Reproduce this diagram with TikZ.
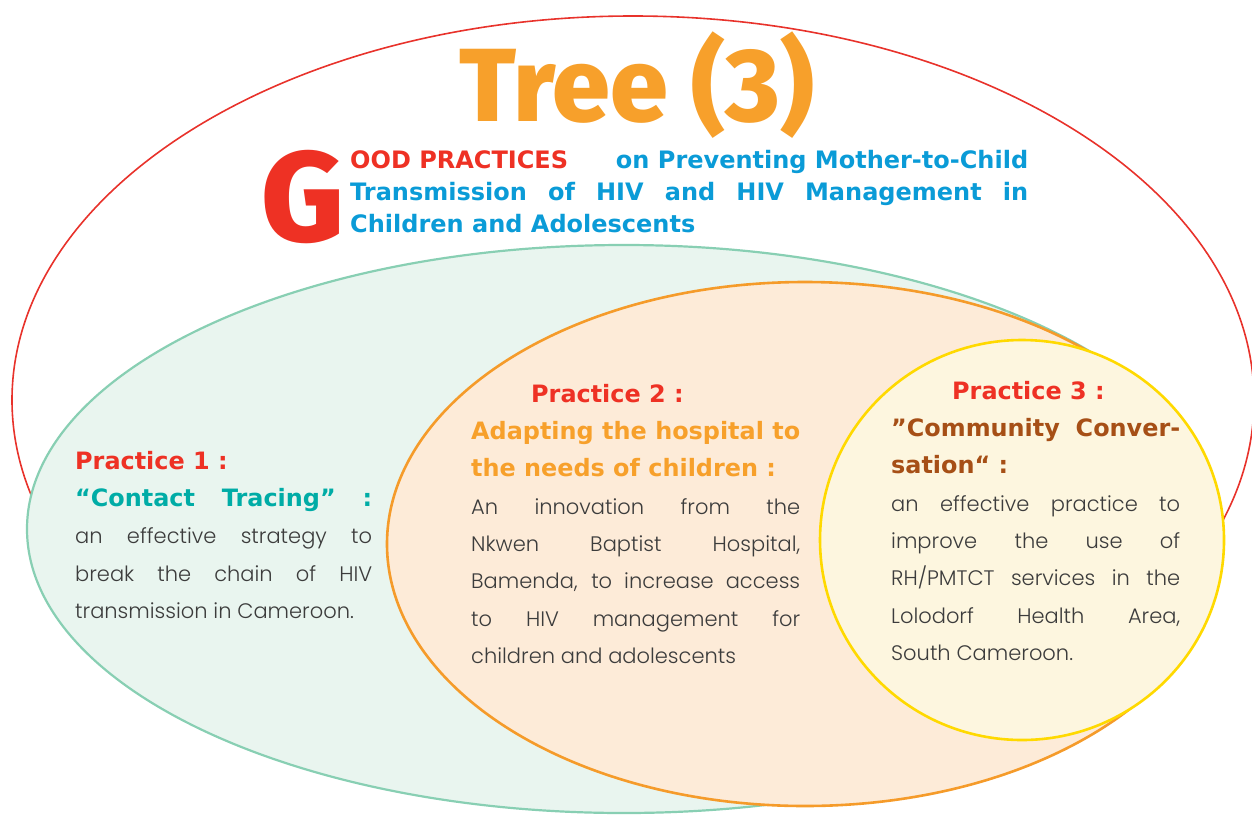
\documentclass[tikz,border=0pt]{standalone}
\usepackage{fontspec}
\setmainfont{DejaVu Sans}
\newfontfamily\lightfont{Poppins Light}
\newfontfamily\heavyfont{Fira Sans ExtraBold}
\usepackage{tikz}
\usetikzlibrary{positioning}

\definecolor{treeorange}{HTML}{F7A02B}
\definecolor{gpred}{HTML}{EE3124}
\definecolor{gpblue}{HTML}{0A9BD7}
\definecolor{ringred}{HTML}{E8322B}
\definecolor{greenfill}{HTML}{E9F5EF}
\definecolor{greenline}{HTML}{88CFB3}
\definecolor{orangefill}{HTML}{FDEBD8}
\definecolor{orangeline}{HTML}{F59B2A}
\definecolor{yellowfill}{HTML}{FDF6DF}
\definecolor{yellowline}{HTML}{FFD900}
\definecolor{tracing}{HTML}{00ACA6}
\definecolor{convbrown}{HTML}{A64F16}
\definecolor{bodygray}{HTML}{3C3C3C}

\newcommand\practicehead[2]{{\color{#1}\normalfont\bfseries\fontsize{23.9}{37.3}\selectfont #2}}

\begin{document}
\begin{tikzpicture}[x=1pt, y=-1pt,
                    ring/.style={line width=#1},
                    blurb/.style={text width=#1, align=justify, inner sep=0pt, anchor=north west,
                                  text=bodygray, font=\lightfont\fontsize{21}{37.3}\selectfont}
                    ]
    \useasboundingbox (0,0) rectangle (1252,814);
    \clip (0,0) rectangle (1252,814);

    \draw[ringred, ring=1.6pt] (633,400) ellipse [x radius=621pt, y radius=384pt];
    \draw[greenline, fill=greenfill, ring=2.2pt] (624,529) ellipse [x radius=597pt, y radius=284pt];
    \draw[orangeline, fill=orangefill, ring=2.6pt] (805,544) ellipse [x radius=418pt, y radius=262pt];
    \draw[yellowline, fill=yellowfill, ring=2.6pt] (1022,540) ellipse [x radius=202pt, y radius=200pt];

    \node (title) [text=treeorange, inner sep=0pt, font=\heavyfont\fontsize{104}{104}\selectfont]
        at (637,85) {Tree (3)};

    \node (subtitle) [anchor=north west, text width=678pt, align=justify, inner sep=0pt,
                      text=gpblue, font=\bfseries\fontsize{24}{32}\selectfont] at (350,150)
        {{\color{gpred}OOD PRACTICES}\hfill on Preventing Mother-to-Child\\
         Transmission of HIV and HIV Management in\linebreak
         Children and Adolescents};
    \node (bigG) [left=5pt of subtitle.north west, anchor=north east, inner sep=0pt,
                  text=gpred, font=\heavyfont\fontsize{128}{128}\selectfont] {G};

    \node (practice1) [blurb=297pt] at (75,451)
        {\practicehead{gpred}{Practice 1 :}\\
         \practicehead{tracing}{“Contact Tracing” :}\linebreak
         an effective strategy to\linebreak
         break the chain of HIV\linebreak
         transmission in Cameroon.};

    \node (practice2) [blurb=329pt] at (471,384)
        {\hspace*{60pt}\practicehead{gpred}{Practice 2 :}\\
         \practicehead{treeorange}{Adapting the hospital to\linebreak
         the needs of children :}\\
         An innovation from the\linebreak
         Nkwen Baptist Hospital,\linebreak
         Bamenda, to increase access\linebreak
         to HIV management for\linebreak
         children and adolescents};

    \node (practice3) [blurb=289pt] at (891,381)
        {\hspace*{61pt}\practicehead{gpred}{Practice 3 :}\\
         \practicehead{convbrown}{”Community Conver-\linebreak
         sation“ :}\\
         an effective practice to\linebreak
         improve the use of\linebreak
         RH/PMTCT services in the\linebreak
         Lolodorf Health Area,\linebreak
         South Cameroon.};
\end{tikzpicture}
\end{document}
